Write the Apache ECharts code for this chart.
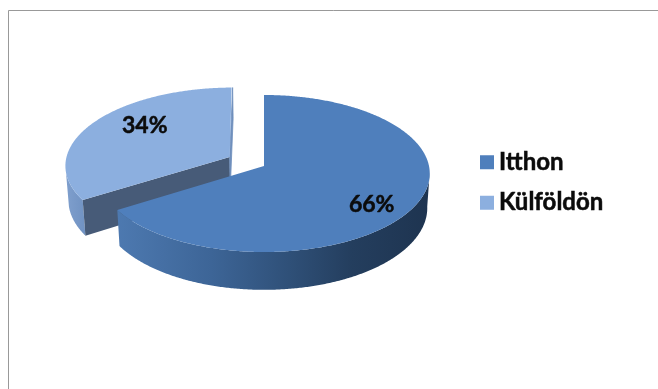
<!DOCTYPE html>
<html>
<head>
<meta charset="utf-8">
<style>html,body{margin:0;padding:0;background:#fff}#chart{width:658px;height:389px}</style>
<script src="https://cdn.jsdelivr.net/npm/echarts@6/dist/echarts.min.js"></script>
</head>
<body>
<div id="chart"></div>
<script>
// Share of respondents, in percent
const categories = ['Itthon', 'Külföldön'];
const shares = [66, 34];

const topColors = ['#4f7fbc', '#8cafdf'];
const cutFaceColors = [null, '#475b78'];
const innerFaceColors = [null, '#6f8fbd'];
const wallStops = [
  [[0, '#4d79b0'], [0.3, '#3d6597'], [0.55, '#2f5078'], [0.75, '#243e5e'], [1, '#1e3450']],
  [[0, '#7f9fcd'], [1, '#7092c2']]
];
const explode = [0, 0.24];
const labelNudge = [[0, 11], [-5, -11]];
const labelRadius = [0.72, 0.58];

// Perspective model of a tilted disc: far half foreshortened, near half enlarged
const cx = 264, cy = 166, rx = 165, ry = 77.8, persp = 0.0955;
const depth = 34.2, floorScale = 0.985;

function project(u, v, onFloor) {
  const den = 1 - persp * v;
  return [
    cx + rx * u * (onFloor ? floorScale : 1) / den,
    cy + (ry * v + (onFloor ? depth : 0)) / den
  ];
}

function startOf(i) {
  const total = shares.reduce((a, b) => a + b, 0);
  return shares.slice(0, i).reduce((a, b) => a + b, 0) / total * 360;
}

function renderSlice(i, value) {
  const total = shares.reduce((a, b) => a + b, 0);
  const from = startOf(i);
  const to = from + value / total * 360;
  const mid = (from + to) / 2 * Math.PI / 180;
  const ex = Math.sin(mid) * explode[i];
  const ey = -Math.cos(mid) * explode[i];
  const rim = (deg, floor) => {
    const t = deg * Math.PI / 180;
    return project(Math.sin(t) + ex, -Math.cos(t) + ey, floor);
  };
  const apex = floor => project(ex, ey, floor);

  // Arc samples on the top face, and the stretch of outer wall facing the viewer
  const arc = [], wallTop = [], wallFloor = [];
  for (let d = from; d <= to + 1e-6; d += 0.5) {
    arc.push(rim(d, false));
    const t = d * Math.PI / 180;
    if (-Math.cos(t) + ey > persp - 0.02) {
      wallTop.push(rim(d, false));
      wallFloor.push(rim(d, true));
    }
  }
  const children = [];
  if (wallTop.length > 1) {
    children.push({
      type: 'polygon',
      shape: { points: wallTop.concat(wallFloor.slice().reverse()) },
      style: { fill: new echarts.graphic.LinearGradient(0, 0, 1, 0, wallStops[i].map(s => ({ offset: s[0], color: s[1] }))) }
    });
  }
  if (cutFaceColors[i]) {
    children.push({
      type: 'polygon',
      shape: { points: [apex(false), rim(from, false), rim(from, true), apex(true)] },
      style: { fill: cutFaceColors[i] }
    });
    // The far cut face is almost edge-on, so a thin outline keeps it visible
    children.push({
      type: 'polygon',
      shape: { points: [apex(false), rim(to, false), rim(to, true), apex(true)] },
      style: { fill: innerFaceColors[i], stroke: innerFaceColors[i], lineWidth: 0.8 }
    });
  }
  children.push({
    type: 'polygon',
    shape: { points: [apex(false)].concat(arc) },
    style: { fill: topColors[i] }
  });
  const lr = labelRadius[i];
  const lp = project(Math.sin(mid) * lr + ex, -Math.cos(mid) * lr + ey, false);
  children.push({
    type: 'text',
    x: lp[0] + labelNudge[i][0],
    y: lp[1] + labelNudge[i][1],
    style: {
      text: value + '%',
      font: 'bold 23px Lato',
      fill: '#0b0b0b',
      stroke: '#0b0b0b',
      lineWidth: 0.5,
      align: 'center',
      verticalAlign: 'middle'
    }
  });
  return { type: 'group', children };
}

const chart = echarts.init(document.getElementById('chart'), null, { renderer: 'canvas' });
chart.setOption({
  animation: false,
  backgroundColor: '#ffffff',
  legend: {
    data: categories,
    orient: 'vertical',
    left: 475,
    top: 145,
    icon: 'rect',
    itemWidth: 14,
    itemHeight: 14,
    itemGap: 16,
    textStyle: {
      fontFamily: 'Lato',
      fontWeight: 'bold',
      fontSize: 24,
      lineHeight: 22,
      color: '#0b0b0b',
      textBorderColor: '#0b0b0b',
      textBorderWidth: 0.5
    },
    selectedMode: false
  },
  graphic: [
    { type: 'line', silent: true, shape: { x1: 8.5, y1: 10.5, x2: 658, y2: 10.5 }, style: { stroke: '#999999', lineWidth: 1 } },
    { type: 'line', silent: true, shape: { x1: 8.5, y1: 10.5, x2: 8.5, y2: 389 }, style: { stroke: '#999999', lineWidth: 1 } }
  ],
  series: categories.map((name, i) => ({
    type: 'custom',
    name,
    coordinateSystem: 'none',
    z: i === 0 ? 3 : 2,
    silent: true,
    itemStyle: { color: topColors[i] },
    data: [[shares[i]]],
    renderItem: (params, api) => renderSlice(i, api.value(0))
  }))
});
</script>
</body>
</html>
